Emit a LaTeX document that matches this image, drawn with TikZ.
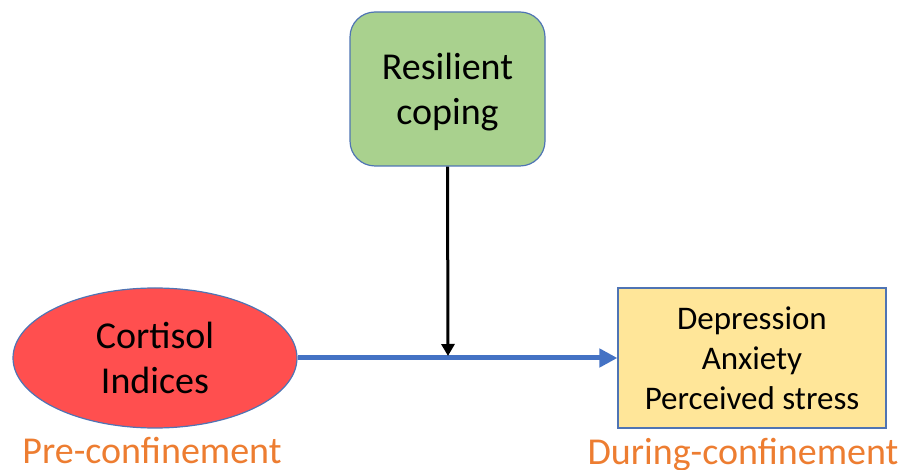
\documentclass[tikz,border=0pt]{standalone}
\usepackage{fontspec}
\setmainfont{Carlito}
\usetikzlibrary{shapes.geometric,arrows.meta}
\definecolor{boxedge}{HTML}{4F74B4}
\definecolor{copefill}{HTML}{A9D18E}
\definecolor{cortfill}{HTML}{FF4F4F}
\definecolor{outfill}{HTML}{FFE699}
\definecolor{pathblue}{HTML}{4472C4}
\definecolor{phase}{HTML}{ED7D31}
\tikzset{
  box/.style={draw=boxedge, line width=1.2pt, align=center, inner sep=0pt},
  big/.style={font=\fontsize{38}{45}\selectfont},
  small/.style={font=\fontsize{33}{40}\selectfont},
  phaselabel/.style={text=phase, font=\fontsize{38}{45}\selectfont, inner sep=0pt, anchor=base},
  mainpath/.style={draw=pathblue, line width=5pt, -{Triangle[length=18pt,width=18pt]}},
  modpath/.style={draw=black, line width=3pt, -{Triangle[length=12pt,width=13pt]}}
}
\begin{document}
\begin{tikzpicture}[x=1pt,y=-1pt]
  \useasboundingbox (0,0) rectangle (914,470);
  % moderator
  \node[box, big, fill=copefill, rounded corners=25pt, text depth=0pt,
        minimum width=195pt, minimum height=154pt] (cope) at (447.5,89) {Resilient\\coping};
  % predictor
  \node[box, big, fill=cortfill, ellipse,
        minimum width=284pt, minimum height=140pt] (cort) at (155,358) {Cortisol\\Indices};
  % outcomes
  \node[box, small, fill=outfill, rectangle,
        minimum width=268pt, minimum height=140pt] (out) at (752,358) {Depression\\Anxiety\\Perceived stress};
  % time labels
  \node[phaselabel] (pre) at (152,464) {Pre-confinement};
  \node[phaselabel] (during) at (743,465) {During-confinement};
  % paths
  \draw[mainpath] (cort.east) -- (out.west);
  \coordinate (meet) at (448,356);
  \draw[modpath] (cope.south) -- (meet);
\end{tikzpicture}
\end{document}
